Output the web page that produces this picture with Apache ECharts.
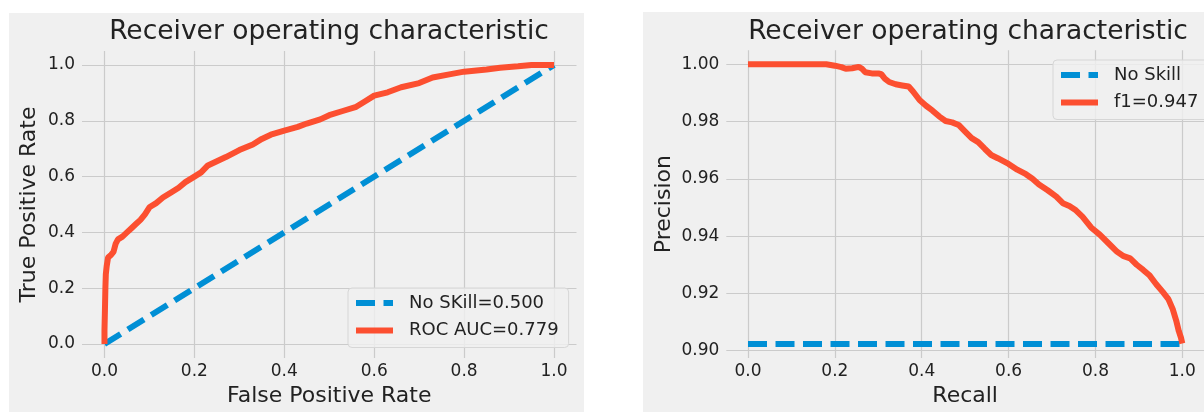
<!DOCTYPE html>
<html><head><meta charset="utf-8">
<script src="https://cdn.jsdelivr.net/npm/echarts@6/dist/echarts.min.js"></script>
<style>html,body{margin:0;padding:0;background:#fff}#c{width:1204px;height:412px}</style>
</head><body><div id="c"></div>
<script>
// ---------- data ----------
const rocTitle = 'Receiver operating characteristic';
const prTitle = 'Receiver operating characteristic';

const rocNoSkillName = 'No SKill=0.500';
const rocCurveName = 'ROC AUC=0.779';
const prNoSkillName = 'No Skill';
const prCurveName = 'f1=0.947';

const rocNoSkillFpr = [0, 1];
const rocNoSkillTpr = [0, 1];

const rocFpr = [0, 0, 0.001, 0.002, 0.003, 0.005, 0.008, 0.015, 0.02, 0.025, 0.03, 0.04, 0.05, 0.06, 0.07, 0.08, 0.09, 0.1, 0.115, 0.13, 0.15, 0.165, 0.18, 0.2, 0.215, 0.23, 0.25, 0.27, 0.3, 0.33, 0.35, 0.37, 0.4, 0.43, 0.45, 0.48, 0.5, 0.53, 0.56, 0.58, 0.6, 0.63, 0.66, 0.7, 0.73, 0.77, 0.8, 0.85, 0.88, 0.92, 0.95, 1.0];
const rocTpr = [0, 0.05, 0.12, 0.2, 0.25, 0.28, 0.31, 0.32, 0.33, 0.36, 0.375, 0.385, 0.4, 0.415, 0.43, 0.445, 0.465, 0.49, 0.505, 0.525, 0.545, 0.56, 0.58, 0.6, 0.615, 0.64, 0.655, 0.67, 0.695, 0.715, 0.735, 0.75, 0.765, 0.778, 0.79, 0.805, 0.82, 0.835, 0.85, 0.87, 0.89, 0.902, 0.92, 0.935, 0.955, 0.967, 0.976, 0.984, 0.99, 0.995, 1.0, 1.0];

const prNoSkillRecall = [0, 1];
const prNoSkillPrecision = [0.9023, 0.9023];

const prRecall = [0, 0.05, 0.1, 0.15, 0.18, 0.2, 0.215, 0.225, 0.24, 0.255, 0.262, 0.27, 0.285, 0.3, 0.307, 0.315, 0.325, 0.34, 0.355, 0.37, 0.38, 0.395, 0.41, 0.425, 0.44, 0.455, 0.47, 0.485, 0.5, 0.515, 0.53, 0.545, 0.56, 0.575, 0.6, 0.62, 0.64, 0.655, 0.67, 0.69, 0.71, 0.725, 0.74, 0.755, 0.77, 0.79, 0.81, 0.83, 0.85, 0.865, 0.88, 0.895, 0.91, 0.925, 0.94, 0.955, 0.968, 0.978, 0.986, 0.992, 0.997, 1.0];
const prPrecision = [1.0, 1.0, 1.0, 1.0, 1.0, 0.9995, 0.999, 0.9984, 0.9986, 0.9991, 0.9985, 0.9972, 0.9968, 0.9968, 0.9965, 0.995, 0.9938, 0.993, 0.9926, 0.9922, 0.9905, 0.9875, 0.9855, 0.9838, 0.9818, 0.9802, 0.9797, 0.9788, 0.9765, 0.9742, 0.9728, 0.9705, 0.9683, 0.9672, 0.9652, 0.9632, 0.9616, 0.96, 0.958, 0.956, 0.9538, 0.9515, 0.9505, 0.949, 0.9468, 0.943, 0.9405, 0.9375, 0.9345, 0.933, 0.9322, 0.93, 0.9282, 0.9262, 0.9232, 0.9205, 0.918, 0.9145, 0.9105, 0.9068, 0.9045, 0.9025];

const unitTicks = [0, 0.2, 0.4, 0.6, 0.8, 1.0];
const precisionTicks = [0.90, 0.92, 0.94, 0.96, 0.98, 1.00];

const rocXName = 'False Positive Rate';
const rocYName = 'True Positive Rate';
const prXName = 'Recall';
const prYName = 'Precision';

// ---------- styling ----------
const FONT = 'DejaVu Sans';
const BLUE = '#008fd5';
const RED = '#fc4f30';
const GRID = '#cbcbcb';
const TXT = '#222';
const LW = 6;

function zip(a, b) { return a.map((v, i) => [v, b[i]]); }

function axis(gridIndex, min, max, ticks, digits, name, nameGap, isY) {
  return {
    gridIndex, type: 'value', min, max,
    axisLine: { show: false, onZero: false },
    axisTick: { show: false, customValues: ticks },
    axisLabel: {
      customValues: ticks, formatter: v => v.toFixed(digits),
      fontFamily: FONT, fontSize: 17, color: TXT, margin: isY ? 7 : 5
    },
    splitLine: { show: true, lineStyle: { color: GRID, width: 1.2 } },
    name, nameLocation: 'middle', nameGap,
    nameTextStyle: { fontFamily: FONT, fontSize: 22, color: TXT }
  };
}

function legend(names, left, top) {
  return {
    data: names, orient: 'vertical', left, top,
    itemWidth: 37, itemHeight: 14, itemGap: 9.5,
    padding: [6, 10, 8, 5],
    backgroundColor: 'rgba(240,240,240,0.8)',
    borderColor: '#d6d6d6', borderWidth: 1, borderRadius: 4,
    itemStyle: { opacity: 0, borderWidth: 0 },
    lineStyle: { width: 'inherit' },
    textStyle: { fontFamily: FONT, fontSize: 18, color: TXT, lineHeight: 18, padding: [0, 0, 0, 11] },
    selectedMode: false
  };
}

const chart = echarts.init(document.getElementById('c'), null, { renderer: 'canvas' });
chart.setOption({
  animation: false,
  backgroundColor: '#ffffff',
  graphic: {
    elements: [
      { type: 'rect', z: -10, silent: true, shape: { x: 9, y: 13, width: 575, height: 400 }, style: { fill: '#f0f0f0' } },
      { type: 'rect', z: -10, silent: true, shape: { x: 643, y: 12, width: 561, height: 400 }, style: { fill: '#f0f0f0' } },
      { type: 'text', x: 329, y: 32, style: { text: rocTitle, fontFamily: FONT, fontSize: 26.5, fill: TXT, align: 'center', verticalAlign: 'middle' } },
      { type: 'text', x: 968, y: 32, style: { text: prTitle, fontFamily: FONT, fontSize: 26.5, fill: TXT, align: 'center', verticalAlign: 'middle' } }
    ]
  },
  grid: [
    { left: 82, top: 51, width: 494.5, height: 307 },
    { left: 726.3, top: 50.2, width: 484.4, height: 309.3 }
  ],
  xAxis: [
    axis(0, -0.05, 1.05, unitTicks, 1, rocXName, 26, false),
    axis(1, -0.05, 1.05, unitTicks, 1, prXName, 24.5, false)
  ],
  yAxis: [
    axis(0, -0.05, 1.05, unitTicks, 1, rocYName, 42, true),
    axis(1, 0.8974, 1.0049, precisionTicks, 2, prYName, 51, true)
  ],
  legend: [
    legend([rocNoSkillName, rocCurveName], 348, 288),
    legend([prNoSkillName, prCurveName], 1053, 60)
  ],
  series: [
    { type: 'line', name: rocNoSkillName, xAxisIndex: 0, yAxisIndex: 0, data: zip(rocNoSkillFpr, rocNoSkillTpr), symbol: 'none', lineStyle: { color: BLUE, width: LW, type: [19, 8.5] }, itemStyle: { color: BLUE } },
    { type: 'line', name: rocCurveName, xAxisIndex: 0, yAxisIndex: 0, data: zip(rocFpr, rocTpr), symbol: 'none', lineStyle: { color: RED, width: LW }, itemStyle: { color: RED } },
    { type: 'line', name: prNoSkillName, xAxisIndex: 1, yAxisIndex: 1, data: zip(prNoSkillRecall, prNoSkillPrecision), symbol: 'none', lineStyle: { color: BLUE, width: LW, type: [19, 8.5] }, itemStyle: { color: BLUE } },
    { type: 'line', name: prCurveName, xAxisIndex: 1, yAxisIndex: 1, data: zip(prRecall, prPrecision), symbol: 'none', lineStyle: { color: RED, width: LW }, itemStyle: { color: RED } }
  ]
});
</script>
</body></html>
